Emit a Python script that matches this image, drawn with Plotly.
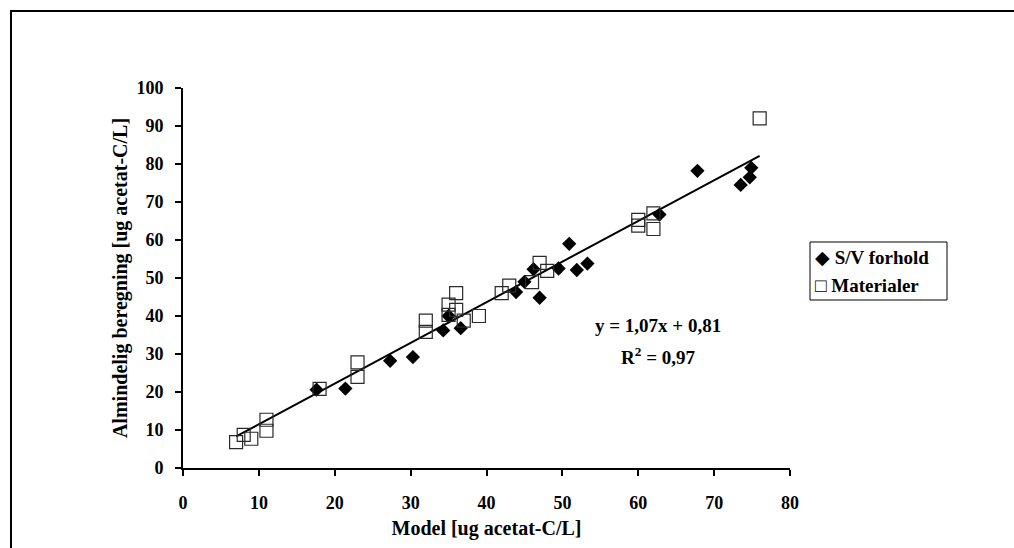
import plotly.graph_objects as go

# S/V forhold (filled diamonds)
sv_model = [17.6, 21.4, 27.3, 30.3, 34.3, 35.0, 36.6, 43.9, 45.0, 46.2, 47.0,
            49.5, 50.9, 51.9, 53.3, 62.8, 67.8, 73.5, 74.7, 74.9]
sv_calc = [20.6, 20.9, 28.2, 29.2, 36.2, 40.0, 36.8, 46.3, 49.0, 52.3, 44.8,
           52.5, 59.0, 52.1, 53.8, 66.7, 78.2, 74.5, 76.5, 79.0]

# Materialer (open squares)
mat_model = [7, 8, 9, 11, 11, 18, 23, 23, 32, 32, 35, 35, 36, 36, 37, 39,
             42, 43, 46, 47, 48, 60, 60, 62, 62, 76]
mat_calc = [6.8, 8.7, 7.7, 12.7, 9.8, 20.8, 27.8, 24.0, 38.8, 35.8, 43.0, 40.3,
            46.0, 41.6, 38.8, 40.0, 46.0, 48.0, 48.9, 54.0, 51.9, 65.3, 63.8,
            67.0, 62.9, 92.0]

series_names = ["S/V forhold", "Materialer"]

# Linear fit as stated in the equation label
slope = 1.07
intercept = 0.81
r_squared = 0.97
fit_x = [7, 76]
fit_y = [slope * v + intercept for v in fit_x]

x_ticks = [0, 10, 20, 30, 40, 50, 60, 70, 80]
y_ticks = [0, 10, 20, 30, 40, 50, 60, 70, 80, 90, 100]

font_family = "Liberation Serif"

def fmt(v):
    return f"{v:.2f}".replace(".", ",")

fig = go.Figure()
fig.add_trace(go.Scatter(
    x=fit_x, y=fit_y, mode="lines",
    line=dict(color="black", width=2), showlegend=False, hoverinfo="skip"))
fig.add_trace(go.Scatter(
    x=sv_model, y=sv_calc, mode="markers", name=series_names[0],
    showlegend=False,
    marker=dict(symbol="diamond", size=11, color="black",
                line=dict(color="black", width=0))))
fig.add_trace(go.Scatter(
    x=mat_model, y=mat_calc, mode="markers", name=series_names[1],
    showlegend=False,
    marker=dict(symbol="square-open", size=13, color="#2a2a2a",
                line=dict(width=1.2))))

# equation of the fitted line
fig.add_annotation(
    x=62.6, y=37.6, xref="x", yref="y", showarrow=False,
    text=f"<b>y = {fmt(slope)}x + {fmt(intercept)}</b>",
    font=dict(family=font_family, size=19, color="black"))
fig.add_annotation(
    x=62.6, y=29.6, xref="x", yref="y", showarrow=False,
    text=f"<b>R<sup>2</sup> = {fmt(r_squared)}</b>",
    font=dict(family=font_family, size=19, color="black"))

L, R, T, B = 183, 224, 88, 80
W, H = 1014, 548
pw, ph = W - L - R, H - T - B

def px_to_paper_x(px):
    return (px - L) / pw

def px_to_paper_y(py):
    return (H - B - py) / ph

# outer chart frame
fig.add_shape(type="rect", xref="paper", yref="paper",
              x0=px_to_paper_x(11), x1=px_to_paper_x(1030),
              y0=px_to_paper_y(570), y1=px_to_paper_y(11),
              line=dict(color="black", width=2), fillcolor="rgba(0,0,0,0)",
              layer="below")

# legend box with symbol + label entries
fig.add_shape(type="rect", xref="paper", yref="paper",
              x0=px_to_paper_x(810), x1=px_to_paper_x(947),
              y0=px_to_paper_y(300), y1=px_to_paper_y(242),
              line=dict(color="black", width=1), fillcolor="white")
legend_glyphs = ["\u25C6", "\u25A1"]
legend_rows = [257, 285]
for glyph, name, row in zip(legend_glyphs, series_names, legend_rows):
    fig.add_annotation(
        x=px_to_paper_x(813), y=px_to_paper_y(row), xref="paper", yref="paper",
        xanchor="left", yanchor="middle", showarrow=False,
        text=f"{glyph} <b>{name}</b>",
        font=dict(family=font_family, size=19, color="black"))

fig.update_layout(
    width=W, height=H,
    margin=dict(l=L, r=R, t=T, b=B),
    paper_bgcolor="white", plot_bgcolor="white",
    font=dict(family=font_family, size=17, color="black"),
    showlegend=False,
    xaxis=dict(range=[0, 80], tickvals=x_ticks,
               ticktext=[f"<b>{v}</b>" for v in x_ticks],
               tickfont=dict(size=18),
               showgrid=False, zeroline=False, showline=True,
               linecolor="black", linewidth=2, ticks="outside",
               ticklen=6, tickwidth=2, tickcolor="black",
               ticklabelstandoff=11,
               title=dict(text="<b>Model [ug acetat-C/L]</b>",
                          font=dict(size=20), standoff=9)),
    yaxis=dict(range=[0, 100], tickvals=y_ticks,
               ticktext=[f"<b>{v}</b>" for v in y_ticks],
               tickfont=dict(size=18),
               showgrid=False, zeroline=False, showline=True,
               linecolor="black", linewidth=2, ticks="outside",
               ticklen=6, tickwidth=2, tickcolor="black",
               ticklabelstandoff=8,
               title=dict(text="<b>Almindelig beregning [ug acetat-C/L]</b>",
                          font=dict(size=20), standoff=3)),
)

fig.write_html("out.html")
